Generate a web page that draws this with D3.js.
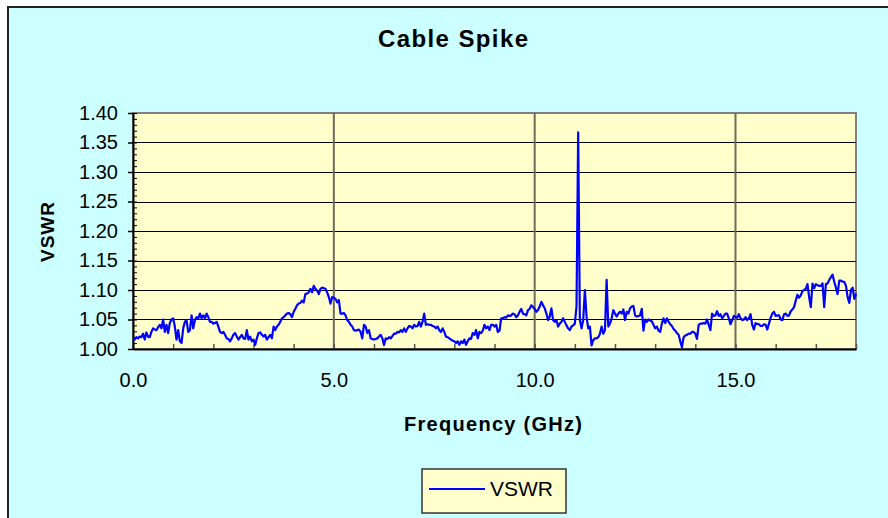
<!DOCTYPE html>
<html>
<head>
<meta charset="utf-8">
<script src="https://cdn.jsdelivr.net/npm/d3@7"></script>
<style>
  body { margin: 0; background: #fff; }
  svg { display: block; font-family: "Liberation Sans", Arial, sans-serif; }
</style>
</head>
<body>
<script>
// ---- data ----
const chartTitle = "Cable Spike";
const seriesName = "VSWR";
const xTitle = "Frequency (GHz)";
const yTitle = "VSWR";

const freqStart = 0;      // GHz, first sweep point
const freqEnd = 18;       // GHz, last sweep point
const xTickValues = [0, 5, 10, 15];
const xMinorTicks = [0,1,2,3,4,5,6,7,8,9,10,11,12,13,14,15,16,17,18];
const yTickValues = [1.00, 1.05, 1.10, 1.15, 1.20, 1.25, 1.30, 1.35, 1.40];
const yMinorTicks = [1.00,1.01,1.02,1.03,1.04,1.05,1.06,1.07,1.08,1.09,1.10,1.11,1.12,1.13,1.14,1.15,1.16,1.17,1.18,1.19,1.20,
                     1.21,1.22,1.23,1.24,1.25,1.26,1.27,1.28,1.29,1.30,1.31,1.32,1.33,1.34,1.35,1.36,1.37,1.38,1.39,1.40];

// VSWR sweep, evenly spaced from freqStart to freqEnd
const vswr = [
  1.017,1.016,1.020,1.018,1.021,1.020,1.026,1.016,1.028,1.021,1.020,1.029,1.035,1.033,1.032,1.037,1.041,1.035,1.050,1.029,
  1.041,1.027,1.044,1.050,1.052,1.038,1.016,1.032,1.013,1.010,1.035,1.046,1.049,1.029,1.032,1.057,1.035,1.049,1.054,1.052,
  1.060,1.052,1.057,1.052,1.060,1.054,1.046,1.046,1.043,1.044,1.046,1.038,1.029,1.027,1.029,1.024,1.018,1.017,1.013,1.018,
  1.024,1.027,1.021,1.016,1.020,1.024,1.018,1.017,1.032,1.016,1.021,1.013,1.016,1.007,1.018,1.027,1.028,1.024,1.021,1.024,
  1.016,1.020,1.024,1.018,1.038,1.032,1.038,1.041,1.046,1.052,1.054,1.057,1.060,1.061,1.059,1.054,1.063,1.068,1.074,1.077,
  1.078,1.082,1.079,1.093,1.094,1.096,1.102,1.096,1.107,1.102,1.099,1.093,1.102,1.104,1.103,1.102,1.096,1.088,1.077,1.088,
  1.087,1.085,1.079,1.083,1.060,1.060,1.061,1.057,1.049,1.046,1.041,1.038,1.032,1.031,1.032,1.033,1.029,1.018,1.041,1.038,
  1.027,1.032,1.018,1.017,1.016,1.017,1.018,1.021,1.024,1.018,1.007,1.018,1.017,1.020,1.018,1.022,1.026,1.026,1.029,1.028,
  1.032,1.029,1.035,1.029,1.035,1.039,1.038,1.035,1.041,1.038,1.039,1.046,1.038,1.046,1.060,1.041,1.042,1.041,1.041,1.039,
  1.038,1.035,1.038,1.032,1.029,1.035,1.029,1.021,1.020,1.018,1.016,1.014,1.013,1.010,1.013,1.007,1.013,1.010,1.016,1.007,
  1.013,1.018,1.017,1.027,1.024,1.032,1.018,1.029,1.027,1.031,1.041,1.035,1.038,1.032,1.041,1.041,1.038,1.041,1.029,1.031,
  1.052,1.052,1.054,1.053,1.057,1.056,1.057,1.060,1.059,1.054,1.057,1.063,1.068,1.060,1.059,1.057,1.066,1.068,1.074,1.071,
  1.068,1.063,1.066,1.072,1.080,1.074,1.069,1.060,1.049,1.055,1.069,1.049,1.046,1.049,1.038,1.043,1.046,1.052,1.046,1.040,
  1.035,1.032,1.038,1.040,1.043,1.072,1.367,1.049,1.035,1.049,1.100,1.055,1.035,1.038,1.006,1.015,1.018,1.018,1.020,1.026,
  1.038,1.026,1.032,1.117,1.038,1.043,1.052,1.066,1.060,1.055,1.060,1.063,1.060,1.067,1.049,1.063,1.060,1.069,1.072,1.073,
  1.057,1.055,1.056,1.057,1.068,1.031,1.050,1.046,1.050,1.048,1.047,1.041,1.035,1.038,1.031,1.029,1.043,1.052,1.044,1.052,
  1.046,1.042,1.039,1.034,1.031,1.027,1.024,1.013,1.003,1.020,1.023,1.024,1.026,1.026,1.029,1.029,1.026,1.017,1.041,1.043,
  1.043,1.044,1.043,1.050,1.041,1.032,1.060,1.056,1.057,1.064,1.056,1.059,1.052,1.056,1.060,1.060,1.052,1.042,1.049,1.056,
  1.054,1.053,1.059,1.052,1.049,1.050,1.054,1.049,1.052,1.059,1.041,1.033,1.044,1.042,1.042,1.039,1.039,1.042,1.041,1.033,
  1.043,1.053,1.060,1.063,1.056,1.057,1.057,1.050,1.049,1.059,1.060,1.056,1.057,1.064,1.067,1.071,1.082,1.092,1.087,1.091,
  1.098,1.100,1.102,1.110,1.088,1.071,1.111,1.103,1.110,1.108,1.107,1.107,1.111,1.071,1.110,1.111,1.117,1.122,1.126,1.114,
  1.104,1.093,1.116,1.116,1.114,1.114,1.107,1.088,1.078,1.100,1.104,1.085,1.094
];

// ---- layout ----
const W = 888, H = 518;
const plot = { left: 133, top: 113, right: 856, bottom: 349 };

const svg = d3.select("body").append("svg")
  .attr("width", W)
  .attr("height", H);

// chart area
svg.append("rect")
  .attr("width", W).attr("height", H)
  .attr("fill", "#fff");
svg.append("rect")
  .attr("x", 8).attr("y", 7)
  .attr("width", W + 20).attr("height", H + 20)
  .attr("fill", "#CCFFFF")
  .attr("stroke", "#222")
  .attr("stroke-width", 2);

const x = d3.scaleLinear().domain([freqStart, freqEnd]).range([plot.left, plot.right]);
const y = d3.scaleLinear().domain([1.00, 1.40]).range([plot.bottom, plot.top]);

const step = (freqEnd - freqStart) / (vswr.length - 1);
const points = vswr.map((v, i) => ({ f: freqStart + i * step, v: v }));

// plot area
svg.append("rect")
  .attr("x", plot.left).attr("y", plot.top)
  .attr("width", plot.right - plot.left).attr("height", plot.bottom - plot.top)
  .attr("fill", "#FFFFCC")
  .attr("stroke", "#808080")
  .attr("stroke-width", 2);

// horizontal gridlines
svg.append("g")
  .selectAll("line")
  .data(yTickValues.filter(d => d > 1.0 && d < 1.4))
  .enter().append("line")
  .attr("x1", plot.left).attr("x2", plot.right)
  .attr("y1", d => Math.round(y(d)) + 0.5).attr("y2", d => Math.round(y(d)) + 0.5)
  .attr("stroke", "#000")
  .attr("stroke-width", 1);

// vertical gridlines
svg.append("g")
  .selectAll("line")
  .data(xTickValues.filter(d => d > freqStart))
  .enter().append("line")
  .attr("x1", d => x(d)).attr("x2", d => x(d))
  .attr("y1", plot.top).attr("y2", plot.bottom)
  .attr("stroke", "#6e6b58")
  .attr("stroke-width", 2);

// minor ticks (inside)
svg.append("g")
  .attr("transform", `translate(0,${plot.bottom})`)
  .call(d3.axisBottom(x).tickValues(xMinorTicks).tickSize(-5).tickFormat(""))
  .call(g => g.select(".domain").remove())
  .selectAll("line").attr("stroke", "#555").attr("stroke-width", 1.5);

svg.append("g")
  .attr("transform", `translate(${plot.left},0)`)
  .call(d3.axisLeft(y).tickValues(yMinorTicks).tickSize(-4).tickFormat(""))
  .call(g => g.select(".domain").remove())
  .selectAll("line").attr("stroke", "#000");

// y axis
const yAxis = svg.append("g")
  .attr("transform", `translate(${plot.left},0)`)
  .call(d3.axisLeft(y).tickValues(yTickValues).tickSize(5).tickSizeOuter(0).tickPadding(10)
    .tickFormat(d3.format(".2f")));
yAxis.select(".domain").attr("stroke", "#000").attr("stroke-width", 2);
yAxis.selectAll(".tick line").attr("stroke", "#000").attr("stroke-width", 1.5);
yAxis.selectAll("text")
  .attr("fill", "#000")
  .style("font-size", "20px");

// x axis
const xAxis = svg.append("g")
  .attr("transform", `translate(0,${plot.bottom})`)
  .call(d3.axisBottom(x).tickValues(xTickValues).tickSize(0).tickSizeOuter(0).tickPadding(24)
    .tickFormat(d3.format(".1f")));
xAxis.select(".domain").attr("stroke", "#000").attr("stroke-width", 2);
xAxis.selectAll("text")
  .attr("fill", "#000")
  .style("font-size", "20px");

// series line
const line = d3.line()
  .x(d => x(d.f))
  .y(d => y(d.v));

svg.append("path")
  .datum(points)
  .attr("d", line)
  .attr("fill", "none")
  .attr("stroke", "#0000FF")
  .attr("stroke-width", 2.2)
  .attr("stroke-linejoin", "round");

// titles
svg.append("text")
  .attr("x", 453).attr("y", 47)
  .attr("text-anchor", "middle")
  .attr("textLength", 150).attr("lengthAdjust", "spacing")
  .style("font-size", "24px").style("font-weight", "bold")
  .text(chartTitle);

svg.append("text")
  .attr("x", 493).attr("y", 431)
  .attr("text-anchor", "middle")
  .attr("textLength", 178).attr("lengthAdjust", "spacing")
  .style("font-size", "20px").style("font-weight", "bold")
  .text(xTitle);

svg.append("text")
  .attr("transform", "translate(54,232) rotate(-90)")
  .attr("text-anchor", "middle")
  .attr("textLength", 60).attr("lengthAdjust", "spacing")
  .style("font-size", "19px").style("font-weight", "bold")
  .text(yTitle);

// legend
const legend = svg.append("g").attr("transform", "translate(422,469)");
legend.append("rect")
  .attr("width", 144).attr("height", 44)
  .attr("fill", "#FFFFCC")
  .attr("stroke", "#333")
  .attr("stroke-width", 1.5);
legend.append("line")
  .attr("x1", 7).attr("x2", 63)
  .attr("y1", 20).attr("y2", 20)
  .attr("stroke", "#0000FF")
  .attr("stroke-width", 2);
legend.append("text")
  .attr("x", 68).attr("y", 27)
  .style("font-size", "21px")
  .text(seriesName);
</script>
</body>
</html>
